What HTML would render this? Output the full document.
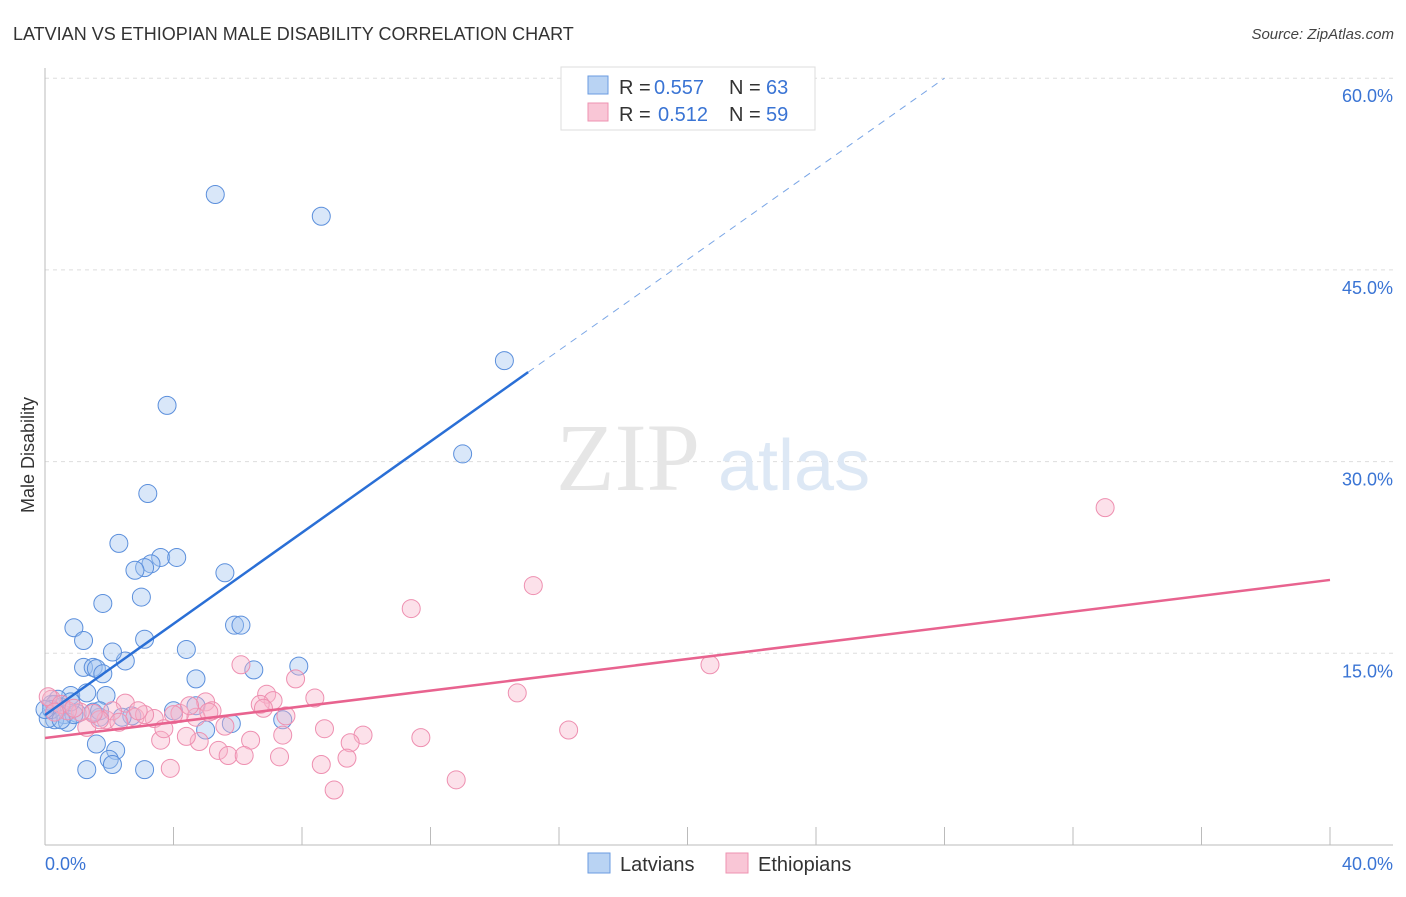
<!DOCTYPE html>
<html><head><meta charset="utf-8"><style>
body{margin:0;background:#fff;font-family:"Liberation Sans",sans-serif}
svg text{font-family:"Liberation Sans",sans-serif}
</style></head><body>
<svg width="1406" height="892">
<text x="13" y="40" font-size="18" fill="#333">LATVIAN VS ETHIOPIAN MALE DISABILITY CORRELATION CHART</text>
<text x="1394" y="39" font-size="15" fill="#444" text-anchor="end" font-style="italic">Source: ZipAtlas.com</text>
<g id="grid"></g>
<text x="700" y="490" font-size="96" fill="#e6e6e6" text-anchor="end" style="font-family:'Liberation Serif',serif">ZIP</text>
<text x="718" y="490" font-size="72" fill="#dde8f5">atlas</text>
<line x1="45" y1="68" x2="45" y2="845" stroke="#bbb"/>
<line x1="45" y1="845" x2="1393" y2="845" stroke="#bbb"/>
<g id="ticks"></g>
<g id="pts"></g>
<g id="lines"></g>
<text x="28" y="455" font-size="18" fill="#333" transform="rotate(-90 28 455)" text-anchor="middle" dy="6">Male Disability</text>
<text x="45" y="870" font-size="18" fill="#3a74d4">0.0%</text>
<text x="1393" y="870" font-size="18" fill="#3a74d4" text-anchor="end">40.0%</text>
<g>
<rect x="561" y="67" width="254" height="63" fill="#fff" stroke="#ddd"/>
<rect x="588" y="76" width="20" height="18" fill="#b9d3f3" stroke="#6a9be0"/>
<rect x="588" y="103" width="20" height="18" fill="#f9c6d6" stroke="#ee93b1"/>
<text x="619" y="94" font-size="20" fill="#333">R =</text>
<text x="654" y="94" font-size="20" fill="#3a74d4">0.557</text>
<text x="729" y="94" font-size="20" fill="#333">N =</text>
<text x="766" y="94" font-size="20" fill="#3a74d4">63</text>
<text x="619" y="121" font-size="20" fill="#333">R =</text>
<text x="658" y="121" font-size="20" fill="#3a74d4">0.512</text>
<text x="729" y="121" font-size="20" fill="#333">N =</text>
<text x="766" y="121" font-size="20" fill="#3a74d4">59</text>
</g>
<g>
<rect x="588" y="853" width="22" height="20" fill="#b9d3f3" stroke="#6a9be0"/>
<text x="620" y="871" font-size="20" fill="#333">Latvians</text>
<rect x="726" y="853" width="22" height="20" fill="#f9c6d6" stroke="#ee93b1"/>
<text x="758" y="871" font-size="20" fill="#333">Ethiopians</text>
</g>
</svg>
<script>
const yTicks=[15,30,45,60];
const xTicks=[0,4,8,12,16,20,24,28,32,36,40];
const latX=[5.3,8.6,14.3,3.8,13.0,3.2,2.3,3.6,4.1,3.3,3.1,2.8,5.6,1.8,3.0,0.9,5.9,6.1,1.2,3.1,4.4,6.5,7.9,1.2,1.5,1.6,2.5,2.1,4.7,1.8,0.8,1.3,1.9,0.4,0.2,0.5,0.6,0.3,0.1,1.0,1.7,2.7,4.0,4.7,5.8,7.4,0.7,1.6,2.2,2.0,2.1,1.3,3.1,5.0,2.4,0.3,0.2,0.9,0.5,0.8,1.5,1.7,0.0];
const latY=[50.9,49.2,37.9,34.4,30.6,27.5,23.6,22.5,22.5,22.0,21.7,21.5,21.3,18.9,19.4,17.0,17.2,17.2,16.0,16.1,15.3,13.7,14.0,13.9,13.9,13.8,14.4,15.1,13.0,13.4,11.7,11.9,11.7,11.4,11.0,10.8,10.2,9.8,9.9,10.3,10.0,10.1,10.5,10.9,9.5,9.8,9.6,7.9,7.4,6.7,6.3,5.9,5.9,9.0,10.0,11.0,10.6,10.2,9.8,11.2,10.4,10.5,10.6];
const ethX=[33.0,15.2,11.4,20.7,14.7,6.1,7.8,8.4,6.9,7.1,6.7,5.0,5.2,4.2,3.4,2.5,1.9,1.3,8.7,9.9,9.5,11.7,16.3,7.4,6.4,5.4,5.7,6.2,7.3,4.8,4.4,3.6,3.9,8.6,9.4,9.0,12.8,2.1,2.8,3.1,1.7,1.5,1.1,0.7,0.2,0.1,0.5,4.0,4.7,5.1,3.7,2.3,2.9,5.6,7.5,6.8,0.9,0.3,4.5];
const ethY=[26.4,20.3,18.5,14.1,11.9,14.1,13.0,11.5,11.8,11.3,11.0,11.2,10.5,10.3,9.9,11.1,9.8,9.2,9.1,8.6,8.0,8.4,9.0,8.6,8.2,7.4,7.0,7.0,6.9,8.1,8.5,8.2,6.0,6.3,6.8,4.3,5.1,10.5,10.0,10.2,9.8,10.3,10.4,10.5,11.4,11.6,11.0,10.2,10.0,10.4,9.1,9.6,10.5,9.3,10.1,10.7,10.7,10.4,10.9];
const latLine=[[0,10.17],[15.04,37.0]], latDash=[[15.04,37.0],[28,60]];
const ethLine=[[0,8.37],[40,20.74]];
const X=v=>45+v/40*1285, Y=v=>845-v/15*191.7;
const NS='http://www.w3.org/2000/svg';
function mk(t,a,p){const e=document.createElementNS(NS,t);for(const k in a)e.setAttribute(k,a[k]);p.appendChild(e);return e;}
const grid=document.getElementById('grid');
yTicks.forEach(v=>{const l=mk('line',{x1:45,x2:1393,y1:Y(v),y2:Y(v),stroke:'#ddd','stroke-dasharray':'4 4'},grid);


const t=mk('text',{x:1393,y:Y(v)+24,'font-size':18,fill:'#3a74d4','text-anchor':'end'},grid);t.textContent=v.toFixed(1)+'%';

});
const tk=document.getElementById('ticks');
xTicks.forEach(v=>{const l=mk('line',{x1:X(v),x2:X(v),y1:827,y2:845,stroke:'#bbb'},tk);

});
const pts=document.getElementById('pts');
latX.forEach((v,i)=>{const c=mk('circle',{cx:X(v),cy:Y(latY[i]),r:9,fill:'rgba(160,196,240,0.4)',stroke:'#5b8fdc','stroke-width':1},pts);

});
ethX.forEach((v,i)=>{const c=mk('circle',{cx:X(v),cy:Y(ethY[i]),r:9,fill:'rgba(248,180,202,0.4)',stroke:'#ee8fb0','stroke-width':1},pts);

});
const ln=document.getElementById('lines');
let a=mk('line',{x1:X(latLine[0][0]),y1:Y(latLine[0][1]),x2:X(latLine[1][0]),y2:Y(latLine[1][1]),stroke:'#2a6fd6','stroke-width':2.5},ln);


let b=mk('line',{x1:X(latDash[0][0]),y1:Y(latDash[0][1]),x2:X(latDash[1][0]),y2:Y(latDash[1][1]),stroke:'#7aa6e6','stroke-width':1,'stroke-dasharray':'7 6'},ln);


let c=mk('line',{x1:X(ethLine[0][0]),y1:Y(ethLine[0][1]),x2:X(ethLine[1][0]),y2:Y(ethLine[1][1]),stroke:'#e8638f','stroke-width':2.5},ln);


</script>
</body></html>
